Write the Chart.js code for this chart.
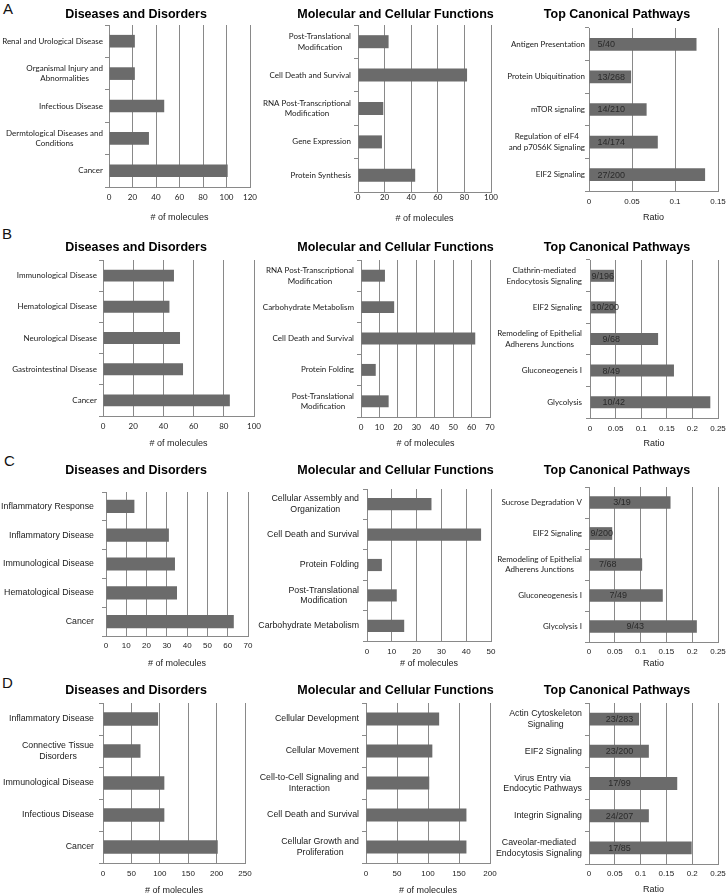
<!DOCTYPE html>
<html><head><meta charset="utf-8"><title>IPA analysis</title>
<script src="https://cdn.jsdelivr.net/npm/chart.js@4.4.1/dist/chart.umd.min.js"></script>
<style>
html,body{margin:0;padding:0;background:#fff;width:727px;height:896px;overflow:hidden;position:relative;}
canvas{position:absolute;display:block;}
.lt{position:absolute;font-family:"Liberation Sans",Arial,sans-serif;font-size:15px;line-height:15px;color:#111;}
</style></head><body>
<div class="lt" style="left:3px;top:1px">A</div>
<div class="lt" style="left:2px;top:226px">B</div>
<div class="lt" style="left:4px;top:453px">C</div>
<div class="lt" style="left:2px;top:675px">D</div>
<script>
// ---------------- DATA ----------------
const catsA1 = ['Renal and Urological Disease', ['Organismal Injury and','Abnormalities'], 'Infectious Disease', ['Dermtological Diseases and','Conditions'], 'Cancer'];
const valsA1 = [22, 22, 47, 34, 101];
const ticksA1 = [0, 20, 40, 60, 80, 100, 120];

const catsA2 = [['Post-Translational','Modification'], 'Cell Death and Survival', ['RNA Post-Transcriptional','Modification'], 'Gene Expression', 'Protein Synthesis'];
const valsA2 = [23, 82, 19, 18, 43];
const ticksA2 = [0, 20, 40, 60, 80, 100];

const catsA3 = ['Antigen Presentation', 'Protein Ubiquitination', 'mTOR signaling', ['Regulation of eIF4','and p70S6K Signaling'], 'EIF2 Signaling'];
const valsA3 = [0.125, 0.049, 0.067, 0.080, 0.135];
const fracA3 = ['5/40', '13/268', '14/210', '14/174', '27/200'];
const ticksA3 = [0, 0.05, 0.1, 0.15];

const catsB1 = ['Immunological Disease', 'Hematological Disease', 'Neurological Disease', 'Gastrointestinal Disease', 'Cancer'];
const valsB1 = [47, 44, 51, 53, 84];
const ticksB1 = [0, 20, 40, 60, 80, 100];

const catsB2 = [['RNA Post-Transcriptional','Modification'], 'Carbohydrate Metabolism', 'Cell Death and Survival', 'Protein Folding', ['Post-Translational','Modification']];
const valsB2 = [13, 18, 62, 8, 15];
const ticksB2 = [0, 10, 20, 30, 40, 50, 60, 70];

const catsB3 = [['Clathrin-mediated','Endocytosis Signaling'], 'EIF2 Signaling', ['Remodeling of Epithelial','Adherens Junctions'], 'Gluconeogeneis I', 'Glycolysis'];
const valsB3 = [0.047, 0.051, 0.133, 0.164, 0.235];
const fracB3 = ['9/196', '10/200', '9/68', '8/49', '10/42'];
const ticksB3 = [0, 0.05, 0.1, 0.15, 0.2, 0.25];

const catsC1 = ['Inflammatory Response', 'Inflammatory Disease', 'Immunological Disease', 'Hematological Disease', 'Cancer'];
const valsC1 = [14, 31, 34, 35, 63];
const ticksC1 = [0, 10, 20, 30, 40, 50, 60, 70];

const catsC2 = [['Cellular Assembly and','Organization'], 'Cell Death and Survival', 'Protein Folding', ['Post-Translational','Modification'], 'Carbohydrate Metabolism'];
const valsC2 = [26, 46, 6, 12, 15];
const ticksC2 = [0, 10, 20, 30, 40, 50];

const catsC3 = ['Sucrose Degradation V', 'EIF2 Signaling', ['Remodeling of Epithelial','Adherens Junctions'], 'Gluconeogenesis I', 'Glycolysis I'];
const valsC3 = [0.158, 0.045, 0.103, 0.143, 0.209];
const fracC3 = ['3/19', '9/200', '7/68', '7/49', '9/43'];
const ticksC3 = [0, 0.05, 0.1, 0.15, 0.2, 0.25];

const catsD1 = ['Inflammatory Disease', ['Connective Tissue','Disorders'], 'Immunological Disease', 'Infectious Disease', 'Cancer'];
const valsD1 = [97, 66, 108, 108, 202];
const ticksD1 = [0, 50, 100, 150, 200, 250];

const catsD2 = ['Cellular Development', 'Cellular Movement', ['Cell-to-Cell Signaling and','Interaction'], 'Cell Death and Survival', ['Cellular Growth and','Proliferation']];
const valsD2 = [118, 107, 102, 162, 162];
const ticksD2 = [0, 50, 100, 150, 200];

const catsD3 = [['Actin Cytoskeleton','Signaling'], 'EIF2 Signaling', ['Virus Entry via','Endocytic Pathways'], 'Integrin Signaling', ['Caveolar-mediated','Endocytosis Signaling']];
const valsD3 = [0.097, 0.116, 0.171, 0.116, 0.199];
const fracD3 = ['23/283', '23/200', '17/99', '24/207', '17/85'];
const ticksD3 = [0, 0.05, 0.1, 0.15, 0.2, 0.25];

const titleDis = 'Diseases and Disorders';
const titleMol = 'Molecular and Cellular Functions';
const titleCan = 'Top Canonical Pathways';
const axisMol = '# of molecules';
const axisRat = 'Ratio';

// ---------------- STYLE / LAYOUT ----------------
const SANS = '"Liberation Sans", Arial, sans-serif';
const CAL = 'Lato, "Liberation Sans", sans-serif';
const BAR = '#6b6b6b';
const GRID = '#898989';
const TXT = '#1a1a1a';

// column title centres and canvas left edges
const colTC = [136, 395.5, 617];
const colL = [0, 256, 492];

const panels = [
 {title:titleDis, cats:catsA1, vals:valsA1, ticks:ticksA1, xt:axisMol, col:0, T:0, B:228, pl:109, pr:250, pt:25, pb:187, ty:15, tky:197, aty:218, gap:6, bp:0.39, cf:CAL, tf:CAL},
 {title:titleMol, cats:catsA2, vals:valsA2, ticks:ticksA2, xt:axisMol, col:1, T:0, B:228, pl:358, pr:491, pt:25, pb:192, ty:15, tky:197, aty:219, gap:7, bp:0.39, cf:CAL, tf:CAL},
 {title:titleCan, cats:catsA3, vals:valsA3, ticks:ticksA3, xt:axisRat, col:2, T:0, B:228, pl:589, pr:718, pt:28, pb:191, ty:15, tky:201.5, aty:217.5, gap:4, bp:0.39, cf:CAL, tf:SANS, frac:fracA3, fmode:'start', foff:8},

 {title:titleDis, cats:catsB1, vals:valsB1, ticks:ticksB1, xt:axisMol, col:0, T:232, B:452, pl:103, pr:254, pt:260, pb:416, ty:248, tky:426.7, aty:444, gap:6, bp:0.38, cf:CAL, tf:CAL},
 {title:titleMol, cats:catsB2, vals:valsB2, ticks:ticksB2, xt:axisMol, col:1, T:232, B:452, pl:361, pr:490, pt:260, pb:417, ty:248, tky:427.3, aty:444, gap:7, bp:0.38, cf:CAL, tf:CAL},
 {title:titleCan, cats:catsB3, vals:valsB3, ticks:ticksB3, xt:axisRat, col:2, T:232, B:452, pl:590, pr:718, pt:260, pb:418, ty:248, tky:429, aty:443.3, gap:8, bp:0.38, cf:CAL, tf:SANS, frac:fracB3, fmode:'fit', foff:12},

 {title:titleDis, cats:catsC1, vals:valsC1, ticks:ticksC1, xt:axisMol, col:0, T:455, B:673, pl:106, pr:248, pt:492, pb:636, ty:471, tky:646, aty:663.3, gap:12, bp:0.46, cf:SANS, tf:SANS},
 {title:titleMol, cats:catsC2, vals:valsC2, ticks:ticksC2, xt:axisMol, col:1, T:455, B:673, pl:367, pr:491, pt:489, pb:641, ty:471, tky:651.7, aty:663.3, gap:8, bp:0.4, cf:SANS, tf:SANS},
 {title:titleCan, cats:catsC3, vals:valsC3, ticks:ticksC3, xt:axisRat, col:2, T:455, B:673, pl:589, pr:718, pt:487, pb:642, ty:471, tky:651.7, aty:663.3, gap:7, bp:0.41, cf:CAL, tf:SANS, frac:fracC3, fmode:'center', foff:-8},

 {title:titleDis, cats:catsD1, vals:valsD1, ticks:ticksD1, xt:axisMol, col:0, T:676, B:900, pl:103, pr:245, pt:703, pb:863, ty:691, tky:874, aty:890.7, gap:9, bp:0.42, cf:SANS, tf:SANS},
 {title:titleMol, cats:catsD2, vals:valsD2, ticks:ticksD2, xt:axisMol, col:1, T:676, B:900, pl:366, pr:490, pt:703, pb:863, ty:691, tky:874, aty:891, gap:7, bp:0.4, cf:SANS, tf:SANS},
 {title:titleCan, cats:catsD3, vals:valsD3, ticks:ticksD3, xt:axisRat, col:2, T:676, B:900, pl:589, pr:718, pt:703, pb:864, ty:691, tky:874, aty:890, gap:7, bp:0.4, cf:SANS, tf:SANS, frac:fracD3, fmode:'fixed', foff:30}
];

const CAT_SIZE = {[CAL]: 8.0, [SANS]: 8.8};
const fmt = v => String(Math.round(v * 1000) / 1000);

const panelPlugin = {
  id: 'panelText',
  afterDatasetsDraw(chart, args, o) {
    if (!o.frac) return;
    const ctx = chart.ctx;
    const meta = chart.getDatasetMeta(0);
    ctx.save();
    ctx.font = '9px ' + SANS;
    ctx.fillStyle = '#2a2a2a';
    ctx.textBaseline = 'middle';
    ctx.textAlign = 'left';
    meta.data.forEach((bar, i) => {
      const pr = bar.getProps(['x', 'y', 'base'], true);
      const start = pr.base, end = pr.x, len = end - start;
      const t = o.frac[i];
      const tw = ctx.measureText(t).width;
      let left;
      if (o.fmode === 'start') left = start + o.foff;
      else if (o.fmode === 'fit') left = start + Math.max(1, Math.min(o.foff, len - tw));
      else if (o.fmode === 'center') left = Math.max(start + 1, (start + end) / 2 + o.foff - tw / 2);
      else left = start + o.foff - tw / 2;
      ctx.fillText(t, left, pr.y + 0.5);
    });
    ctx.restore();
  },
  afterDraw(chart, args, o) {
    const ctx = chart.ctx;
    const ys = chart.scales.y;
    ctx.save();
    // panel title
    ctx.font = 'bold 12.5px ' + SANS;
    ctx.fillStyle = '#000';
    ctx.textAlign = 'center';
    ctx.textBaseline = 'middle';
    ctx.fillText(o.title, o.tx, o.tyc);
    // category labels: block right-aligned, lines centred
    ctx.font = o.cs + 'px ' + o.cf;
    ctx.fillStyle = TXT;
    const right = ys.right - o.gap;
    const lh = 10.5;
    chart.data.labels.forEach((lab, i) => {
      const lines = Array.isArray(lab) ? lab : [lab];
      const w = Math.max(...lines.map(l => ctx.measureText(l).width));
      const cx = right - w / 2;
      const y0 = ys.getPixelForValue(i) - (lines.length - 1) * lh / 2;
      lines.forEach((l, k) => ctx.fillText(l, cx, y0 + k * lh));
    });
    ctx.restore();
  }
};

panels.forEach(p => {
  const L = colL[p.col];
  const W = p.pr + 14 - L, H = p.B - p.T;
  const c = document.createElement('canvas');
  c.width = W; c.height = H;
  c.style.left = L + 'px'; c.style.top = p.T + 'px';
  c.style.width = W + 'px'; c.style.height = H + 'px';
  document.body.appendChild(c);
  const tfs = 8;
  new Chart(c, {
    type: 'bar',
    data: {
      labels: p.cats,
      datasets: [{data: p.vals, backgroundColor: BAR, borderWidth: 0, barPercentage: p.bp, categoryPercentage: 1}]
    },
    options: {
      indexAxis: 'y', responsive: false, animation: false, devicePixelRatio: 1,
      layout: {padding: {left: 0, right: 14, top: p.pt - p.T, bottom: 0}},
      plugins: {
        legend: {display: false}, tooltip: {enabled: false}, title: {display: false},
        panelText: {title: p.title, tx: colTC[p.col] - L, tyc: p.ty - p.T, gap: p.gap, cf: p.cf, cs: CAT_SIZE[p.cf],
                    frac: p.frac, fmode: p.fmode, foff: p.foff}
      },
      scales: {
        x: {
          type: 'linear', position: 'bottom',
          min: p.ticks[0], max: p.ticks[p.ticks.length - 1],
          ticks: {stepSize: p.ticks[1] - p.ticks[0], autoSkip: false, maxRotation: 0, color: TXT,
                  font: {family: p.tf, size: tfs, lineHeight: 1.2},
                  padding: Math.max(0, p.tky - p.pb - tfs * 0.6), callback: v => fmt(v)},
          grid: {display: true, drawOnChartArea: true, drawTicks: false, color: GRID, lineWidth: 1},
          border: {display: true, color: GRID, width: 1},
          title: {display: true, text: p.xt, color: TXT, font: {family: SANS, size: 9, lineHeight: 1.2},
                  padding: {top: 0, bottom: p.B - p.aty - 5.4}},
          afterFit: s => { s.height = p.B - p.pb; }
        },
        y: {
          type: 'category', position: 'left', offset: true,
          ticks: {display: false},
          grid: {display: true, drawOnChartArea: false, drawTicks: true, tickLength: 4, color: GRID, offset: true},
          border: {display: true, color: GRID, width: 1},
          afterFit: s => { s.width = p.pl - L; }
        }
      }
    },
    plugins: [panelPlugin]
  });
});
</script>
</body></html>
